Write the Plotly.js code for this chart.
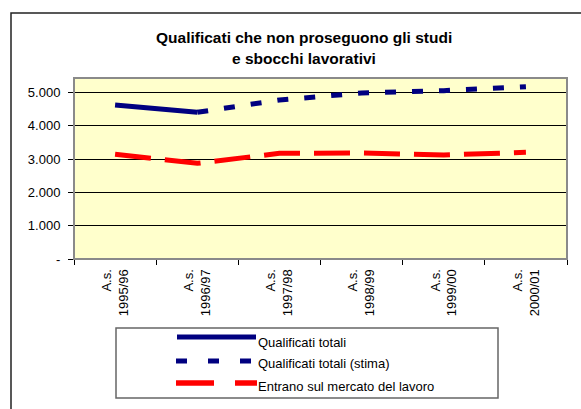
<!DOCTYPE html>
<html><head><meta charset="utf-8">
<script src="https://cdn.plot.ly/plotly-3.0.1.min.js"></script>
<style>html,body{margin:0;padding:0;background:#fff;}#chart{width:581px;height:409px;}</style>
</head><body><div id="chart"></div>
<script>
// ---- data ----
const categories = ['1995/96','1996/97','1997/98','1998/99','1999/00','2000/01'];
const categoryLabels = ['A.s.<br>1995/96','A.s.<br>1996/97','A.s.<br>1997/98','A.s.<br>1998/99','A.s.<br>1999/00','A.s.<br>2000/01'];
const qualificatiTotali = [4620, 4400, null, null, null, null];
const qualificatiStima = [null, 4400, 4770, 4980, 5050, 5170];
const entranoMercato = [3140, 2870, 3170, 3180, 3120, 3200];
const yTickVals = [0, 1000, 2000, 3000, 4000, 5000];
const yTickText = ['-', '1.000', '2.000', '3.000', '4.000', '5.000'];
const seriesNames = ['Qualificati totali', 'Qualificati totali (stima)', 'Entrano sul mercato del lavoro'];
const titleLines = ['Qualificati che non proseguono gli studi', 'e sbocchi lavorativi'];

// ---- layout geometry ----
const W = 581, H = 409;
const mL = 74, mR = 14, mT = 78, mB = 150;
const pw = W - mL - mR, ph = H - mT - mB;
const px = x => (x - mL) / pw;
const py = y => (H - mB - y) / ph;
const font = 'Liberation Sans, Arial, sans-serif';
const navy = '#000080', red = '#FF0000';

const traces = [
  {x: categories, y: qualificatiTotali, name: seriesNames[0], mode: 'lines',
   line: {color: navy, width: 5}, hoverinfo: 'skip'},
  {x: categories, y: qualificatiStima, name: seriesNames[1], mode: 'lines',
   line: {color: navy, width: 5, dash: '11px,16px'}, hoverinfo: 'skip'},
  {x: categories, y: entranoMercato, name: seriesNames[2], mode: 'lines',
   line: {color: red, width: 5, dash: '36px,14px'}, hoverinfo: 'skip'}
];

const shapes = [
  // outer chart border
  {type: 'rect', xref: 'paper', yref: 'paper', x0: px(11), x1: px(600), y0: py(430), y1: py(13),
   line: {color: '#222', width: 1.5}, layer: 'below'},
  // plot area gray border
  {type: 'rect', xref: 'paper', yref: 'paper', x0: 0, x1: 1, y0: 0, y1: 1,
   line: {color: '#8a8a8a', width: 2}, layer: 'above'},
  // legend box
  {type: 'rect', xref: 'paper', yref: 'paper', x0: px(116), x1: px(498), y0: py(398), y1: py(328),
   line: {color: '#666', width: 1.5}, fillcolor: '#fff', layer: 'above'},
  // legend samples
  {type: 'line', xref: 'paper', yref: 'paper', x0: px(177), x1: px(256), y0: py(337), y1: py(337),
   line: {color: navy, width: 5}, layer: 'above'},
  {type: 'line', xref: 'paper', yref: 'paper', x0: px(176), x1: px(256), y0: py(361), y1: py(361),
   line: {color: navy, width: 5, dash: '11px,21px'}, layer: 'above'},
  {type: 'line', xref: 'paper', yref: 'paper', x0: px(176), x1: px(257), y0: py(383), y1: py(383),
   line: {color: red, width: 5.5, dash: '38px,21px'}, layer: 'above'}
];

const annotations = [
  {text: '<b>' + titleLines[0] + '</b>', xref: 'paper', yref: 'paper', x: px(304), y: py(38),
   xanchor: 'center', yanchor: 'middle', showarrow: false, font: {family: font, size: 15.5, color: '#000'}},
  {text: '<b>' + titleLines[1] + '</b>', xref: 'paper', yref: 'paper', x: px(304), y: py(58),
   xanchor: 'center', yanchor: 'middle', showarrow: false, font: {family: font, size: 15.5, color: '#000'}}
];
const legendY = [342, 363, 386];
seriesNames.forEach((n, i) => annotations.push({
  text: n, xref: 'paper', yref: 'paper', x: px(256), y: py(legendY[i]),
  xanchor: 'left', yanchor: 'middle', showarrow: false, font: {family: font, size: 13, color: '#000'}
}));

const layout = {
  width: W, height: H,
  margin: {l: mL, r: mR, t: mT, b: mB, pad: 0},
  paper_bgcolor: 'rgba(0,0,0,0)',
  plot_bgcolor: '#FFFFCC',
  showlegend: false,
  font: {family: font, size: 13, color: '#000'},
  xaxis: {
    type: 'category', range: [-0.5, 5.5], tickmode: 'array',
    tickvals: categories, ticktext: categoryLabels, tickangle: -90,
    tickson: 'boundaries', ticks: 'outside', ticklen: 5, tickcolor: '#000', tickwidth: 1,
    ticklabelstandoff: 4,
    showgrid: false, showline: true, linecolor: '#000', linewidth: 1, zeroline: false,
    tickfont: {family: font, size: 13, color: '#000'}, fixedrange: true
  },
  yaxis: {
    range: [0, 5430], tickmode: 'array', tickvals: yTickVals, ticktext: yTickText,
    ticks: 'outside', ticklen: 5, tickcolor: '#000', tickwidth: 1,
    ticklabelstandoff: 5,
    showgrid: true, gridcolor: '#000', gridwidth: 1,
    showline: true, linecolor: '#000', linewidth: 1, zeroline: false,
    tickfont: {family: font, size: 13, color: '#000'}, fixedrange: true
  },
  shapes: shapes,
  annotations: annotations
};

Plotly.newPlot('chart', traces, layout, {displayModeBar: false, staticPlot: true});
</script>
</body></html>
